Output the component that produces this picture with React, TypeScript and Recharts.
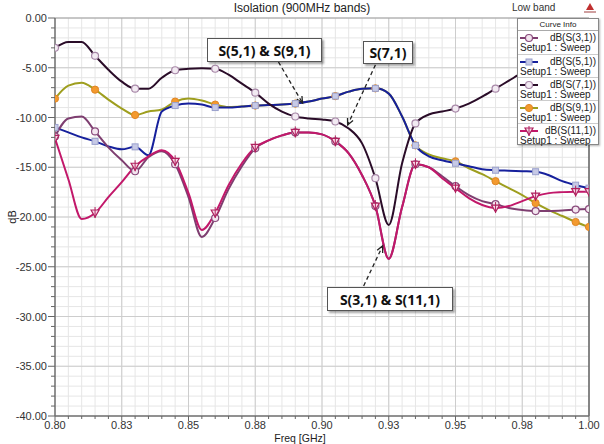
import React from "react";
import { LineChart, Line, XAxis, YAxis, CartesianGrid, ReferenceLine } from "recharts";

// ---------- data ----------
const freqs = [
  0.8, 0.805, 0.81, 0.815, 0.82, 0.825, 0.83, 0.835, 0.84, 0.845, 0.85,
  0.855, 0.86, 0.865, 0.87, 0.875, 0.88, 0.885, 0.89, 0.895, 0.9,
  0.905, 0.91, 0.915, 0.92, 0.925, 0.93, 0.935, 0.94, 0.945, 0.95,
  0.955, 0.96, 0.965, 0.97, 0.975, 0.98, 0.985, 0.99, 0.995, 1.0,
];

const s31 = [
  -11.9, -10.1, -9.9, -11.4, -13.0, -14.3, -15.4, -14.0, -13.4, -14.7, -18.0,
  -22.0, -20.1, -17.2, -14.9, -13.1, -12.3, -11.8, -11.5, -11.5, -11.7,
  -12.4, -13.6, -15.8, -18.9, -24.2, -19.0, -14.7, -15.0, -15.9, -16.9,
  -17.8, -18.4, -18.7, -19.1, -19.3, -19.4, -19.4, -19.35, -19.25, -19.2,
];

const s51 = [
  -11.0, -11.5, -12.0, -12.4, -12.9, -13.2, -12.95, -13.8, -9.4, -8.8, -8.6,
  -8.7, -9.0, -9.0, -8.9, -8.8, -8.75, -8.7, -8.6, -8.4, -8.1,
  -7.85, -7.4, -7.1, -7.07, -7.6, -9.9, -12.8, -13.9, -14.3, -14.6,
  -14.9, -15.2, -15.3, -15.35, -15.4, -15.45, -15.8, -16.4, -16.8, -17.1,
];

const s71 = [
  -3.0, -2.4, -2.4, -3.8, -5.2, -6.4, -7.1, -7.1, -6.0, -5.25, -5.1,
  -5.05, -5.1, -5.7, -6.6, -7.5, -8.6, -9.4, -9.9, -10.1, -10.2,
  -10.4, -11.1, -12.6, -16.1, -20.8, -14.6, -10.6, -9.7, -9.4, -9.1,
  -8.6, -7.9, -7.1, -6.3, -5.5, -4.8, -4.2, -3.8, -3.4, -3.1,
];

const s91 = [
  -8.1, -6.8, -6.5, -7.2, -8.2, -9.1, -9.75, -9.4, -9.2, -8.4, -8.1,
  -8.3, -8.7, -8.95, -8.9, -8.8, -8.75, -8.7, -8.6, -8.4, -8.1,
  -7.85, -7.4, -7.1, -7.07, -7.6, -9.9, -12.8, -13.7, -14.1, -14.4,
  -15.1, -15.7, -16.4, -17.1, -17.8, -18.6, -19.3, -19.9, -20.5, -21.0,
];

const s111 = [
  -12.1, -16.2, -20.2, -19.6, -18.0, -16.5, -14.9, -13.9, -13.3, -14.4, -17.6,
  -21.3, -19.6, -16.8, -14.6, -13.0, -12.3, -11.8, -11.5, -11.5, -11.7,
  -12.4, -13.6, -15.8, -18.9, -24.2, -19.0, -14.7, -15.0, -16.1, -17.1,
  -18.1, -18.8, -19.1, -18.9, -18.4, -17.9, -17.6, -17.5, -17.45, -17.45,
];

const seriesNames = ["dB(S(3,1))", "dB(S(5,1))", "dB(S(7,1))", "dB(S(9,1))", "dB(S(11,1))"];
const sweepLabel = "Setup1 : Sweep";

const xMajorTicks = [0.8, 0.825, 0.85, 0.875, 0.9, 0.925, 0.95, 0.975, 1.0];
const xTickLabels = ["0.80", "0.83", "0.85", "0.88", "0.90", "0.93", "0.95", "0.98", "1.00"];
const yMajorTicks = [0, -5, -10, -15, -20, -25, -30, -35, -40];
const yTickLabels = ["0.00", "-5.00", "-10.00", "-15.00", "-20.00", "-25.00", "-30.00", "-35.00", "-40.00"];
const yMinorTicks = Array.from({ length: 41 }, (_, i) => -40 + i);

const titleText = "Isolation (900MHz bands)";
const xAxisTitle = "Freq [GHz]";
const yAxisTitle = "dB";
const bandText = "Low band";

const annotations = [
  { text: "S(5,1) & S(9,1)", from: { x: 0.8837, y: -4.42 }, to: { x: 0.8927, y: -8.54 } },
  { text: "S(7,1)", from: { x: 0.92, y: -4.72 }, to: { x: 0.9096, y: -10.75 } },
  { text: "S(3,1) & S(11,1)", from: { x: 0.9156, y: -26.93 }, to: { x: 0.9227, y: -22.91 } },
];

// ---------- styles ----------
const styles: Record<string, any> = {
  s31: { name: seriesNames[0], color: "#7e3e70", marker: "circle", mfill: "#f3e6ef", mstroke: "#8a4a7c" },
  s51: { name: seriesNames[1], color: "#16209c", marker: "square", mfill: "#c6c9e6", mstroke: "#9aa0cc" },
  s71: { name: seriesNames[2], color: "#2a0c28", marker: "circle", mfill: "#f2eaf2", mstroke: "#a888a8" },
  s91: { name: seriesNames[3], color: "#9e9e1e", marker: "dot", mfill: "#f39a2e", mstroke: "#e08524" },
  s111: { name: seriesNames[4], color: "#c2186a", marker: "tri", mfill: "#f7dce9", mstroke: "#b0205e" },
};
const drawOrder = ["s91", "s51", "s31", "s111", "s71"];
const legendOrder = ["s31", "s51", "s71", "s91", "s111"];

const boxPos = [
  { left: 207, top: 38, width: 115, height: 24 },
  { left: 363, top: 41, width: 50, height: 23 },
  { left: 327, top: 287, width: 126, height: 24 },
];

const data = freqs.map((f, i) => ({
  f,
  s31: s31[i],
  s51: s51[i],
  s71: s71[i],
  s91: s91[i],
  s111: s111[i],
}));

const FONT = "'Liberation Sans', Arial, sans-serif";

function Marker({ kind, cx, cy, fill, stroke }: any) {
  if (kind === "square")
    return <rect x={cx - 3} y={cy - 3} width={6} height={6} fill={fill} stroke={stroke} strokeWidth={1} />;
  if (kind === "tri")
    return (
      <g>
        <path d={`M${cx - 4},${cy - 3} L${cx + 4},${cy - 3} L${cx},${cy + 4} Z`} fill={fill} stroke={stroke} strokeWidth={1.2} />
        <line x1={cx} y1={cy - 6} x2={cx} y2={cy + 5} stroke={stroke} strokeWidth={1} />
      </g>
    );
  if (kind === "dot") return <circle cx={cx} cy={cy} r={3.6} fill={fill} stroke={stroke} strokeWidth={1} />;
  return <circle cx={cx} cy={cy} r={3.5} fill={fill} stroke={stroke} strokeWidth={1.2} />;
}

const makeDot = (key: string) => (props: any) => {
  const { cx, cy, index } = props;
  const k = `${key}-dot-${index}`;
  const show = index % 3 === 0 || index === freqs.length - 1;
  if (!show || cx == null || cy == null) return <g key={k} />;
  const st = styles[key];
  return (
    <g key={k}>
      <Marker kind={st.marker} cx={cx} cy={cy} fill={st.mfill} stroke={st.mstroke} />
    </g>
  );
};

const XTick = (props: any) => {
  const { x, y, payload } = props;
  const idx = Math.round((payload.value - 0.8) / 0.005);
  const major = idx % 5 === 0;
  return (
    <g>
      <line x1={x} x2={x} y1={y} y2={y + (major ? 5 : 3)} stroke="#666" />
      {major && (
        <text x={x} y={y + 13} textAnchor="middle" fontSize={11} fill="#333" fontFamily={FONT}>
          {xTickLabels[idx / 5]}
        </text>
      )}
    </g>
  );
};

const YTick = (props: any) => {
  const { x, y, payload } = props;
  const v = payload.value;
  const idx = yMajorTicks.indexOf(v);
  const major = idx >= 0;
  return (
    <g>
      <line x1={x} x2={x - (major ? 7 : 4)} y1={y} y2={y} stroke="#666" />
      {major && (
        <text x={x - 8} y={y + 4} textAnchor="end" fontSize={11} fill="#333" fontFamily={FONT}>
          {yTickLabels[idx]}
        </text>
      )}
    </g>
  );
};

const ArrowShape = (props: any) => {
  const { x1, y1, x2, y2 } = props;
  if ([x1, y1, x2, y2].some((v) => v == null || isNaN(v))) return <g />;
  const ang = Math.atan2(y2 - y1, x2 - x1);
  const L = 7;
  const a1 = ang + Math.PI - 0.45;
  const a2 = ang + Math.PI + 0.45;
  return (
    <g>
      <line x1={x1} y1={y1} x2={x2} y2={y2} stroke="#222" strokeWidth={1.3} strokeDasharray="4 3" />
      <path
        d={`M${x2 + L * Math.cos(a1)},${y2 + L * Math.sin(a1)} L${x2},${y2} L${x2 + L * Math.cos(a2)},${y2 + L * Math.sin(a2)}`}
        fill="none"
        stroke="#222"
        strokeWidth={1.3}
      />
    </g>
  );
};

function LegendSample({ k }: { k: string }) {
  const st = styles[k];
  return (
    <svg width={18} height={10} style={{ display: "block" }}>
      <line x1={0} y1={5} x2={18} y2={5} stroke={st.color} strokeWidth={2} />
      <Marker kind={st.marker} cx={9} cy={5} fill={st.mfill} stroke={st.mstroke} />
    </svg>
  );
}

export default function App() {
  return (
    <div
      style={{
        position: "absolute",
        left: 0,
        top: 0,
        width: 604,
        height: 444,
        background: "#ffffff",
        fontFamily: FONT,
        overflow: "hidden",
      }}
    >
      <LineChart
        width={604}
        height={444}
        data={data}
        margin={{ top: 18, right: 15, bottom: 0, left: 0 }}
        style={{ fontFamily: FONT }}
      >
        <CartesianGrid stroke="#e6e6e6" strokeWidth={1} />
        {xMajorTicks.slice(1, -1).map((v) => (
          <ReferenceLine key={`vx-${v}`} x={v} stroke="#cdcdcd" strokeWidth={1} />
        ))}
        {yMajorTicks.slice(1, -1).map((v) => (
          <ReferenceLine key={`hy-${v}`} y={v} stroke="#cdcdcd" strokeWidth={1} />
        ))}
        <XAxis
          dataKey="f"
          type="number"
          domain={[0.8, 1.0]}
          ticks={freqs}
          interval={0}
          allowDataOverflow
          tickSize={0}
          tickMargin={0}
          tickLine={false}
          tick={(p: any) => <XTick {...p} />}
          axisLine={{ stroke: "#707070", strokeWidth: 1.5 }}
          height={28}
        />
        <YAxis
          type="number"
          domain={[-40, 0]}
          ticks={yMinorTicks}
          interval={0}
          allowDataOverflow
          tickSize={0}
          tickMargin={0}
          tickLine={false}
          tick={(p: any) => <YTick {...p} />}
          axisLine={{ stroke: "#707070", strokeWidth: 1.5 }}
          width={55}
        />
        <ReferenceLine y={0} stroke="#9a9a9a" strokeWidth={1} />
        <ReferenceLine x={1.0} stroke="#606060" strokeWidth={1.5} />
        {drawOrder.map((k) => (
          <Line
            key={k}
            type="monotone"
            dataKey={k}
            name={styles[k].name}
            stroke={styles[k].color}
            strokeWidth={2}
            dot={makeDot(k)}
            activeDot={false}
            isAnimationActive={false}
          />
        ))}
        {annotations.map((a, i) => (
          <ReferenceLine
            key={`arr-${i}`}
            segment={[a.from, a.to]}
            ifOverflow="visible"
            shape={(p: any) => <ArrowShape {...p} />}
          />
        ))}
      </LineChart>

      {/* title */}
      <div style={{ position: "absolute", left: 0, top: 1, width: 604, textAlign: "center", fontSize: 12, color: "#222" }}>
        {titleText}
      </div>
      <div style={{ position: "absolute", left: 512, top: 2, fontSize: 10, color: "#333" }}>{bandText}</div>
      <svg style={{ position: "absolute", left: 582, top: 2 }} width={16} height={12}>
        <path d="M8,1 L12,8 L4,8 Z" fill="#c03030" />
        <line x1={2} y1={10} x2={14} y2={10} stroke="#a04040" strokeWidth={1} />
      </svg>

      {/* axis titles */}
      <div
        style={{
          position: "absolute",
          left: 3,
          top: 211,
          width: 18,
          textAlign: "center",
          fontSize: 11,
          color: "#222",
          transform: "rotate(-90deg)",
        }}
      >
        {yAxisTitle}
      </div>
      <div
        style={{
          position: "absolute",
          left: 250,
          top: 432,
          width: 100,
          height: 12,
          lineHeight: "12px",
          textAlign: "center",
          fontSize: 10.5,
          color: "#222",
        }}
      >
        {xAxisTitle}
      </div>

      {/* annotation boxes */}
      {annotations.map((a, i) => (
        <div
          key={`box-${i}`}
          style={{
            position: "absolute",
            ...boxPos[i],
            boxSizing: "border-box",
            border: "1px solid #555",
            background: "#fff",
            boxShadow: "2px 2px 2px rgba(0,0,0,0.35)",
            display: "flex",
            alignItems: "center",
            justifyContent: "center",
            fontFamily: "'Noto Sans', 'Open Sans', sans-serif",
            fontWeight: 700,
            fontSize: 14,
            color: "#111",
            whiteSpace: "nowrap",
          }}
        >
          {a.text}
        </div>
      ))}

      {/* legend */}
      <div
        style={{
          position: "absolute",
          left: 517,
          top: 18,
          width: 82,
          height: 127,
          boxSizing: "border-box",
          border: "1px solid #888",
          background: "#fff",
          boxShadow: "1px 1px 2px rgba(0,0,0,0.3)",
          fontSize: 10,
          color: "#222",
        }}
      >
        <div style={{ height: 11, lineHeight: "11px", fontSize: 8, textAlign: "center", borderBottom: "1px solid #aaa" }}>
          Curve Info
        </div>
        {legendOrder.map((k, i) => (
          <div
            key={k}
            style={{
              height: 23,
              boxSizing: "border-box",
              borderTop: i === 0 ? "none" : "1px solid #ccc",
              padding: "1px 0 0 2px",
              whiteSpace: "nowrap",
            }}
          >
            <div style={{ display: "flex", alignItems: "center", height: 11, lineHeight: "11px" }}>
              <div style={{ width: 20 }}>
                <LegendSample k={k} />
              </div>
              <div style={{ flex: 1, textAlign: "right", paddingRight: 2 }}>{styles[k].name}</div>
            </div>
            <div style={{ height: 10.5, lineHeight: "10.5px" }}>{sweepLabel}</div>
          </div>
        ))}
      </div>
    </div>
  );
}
